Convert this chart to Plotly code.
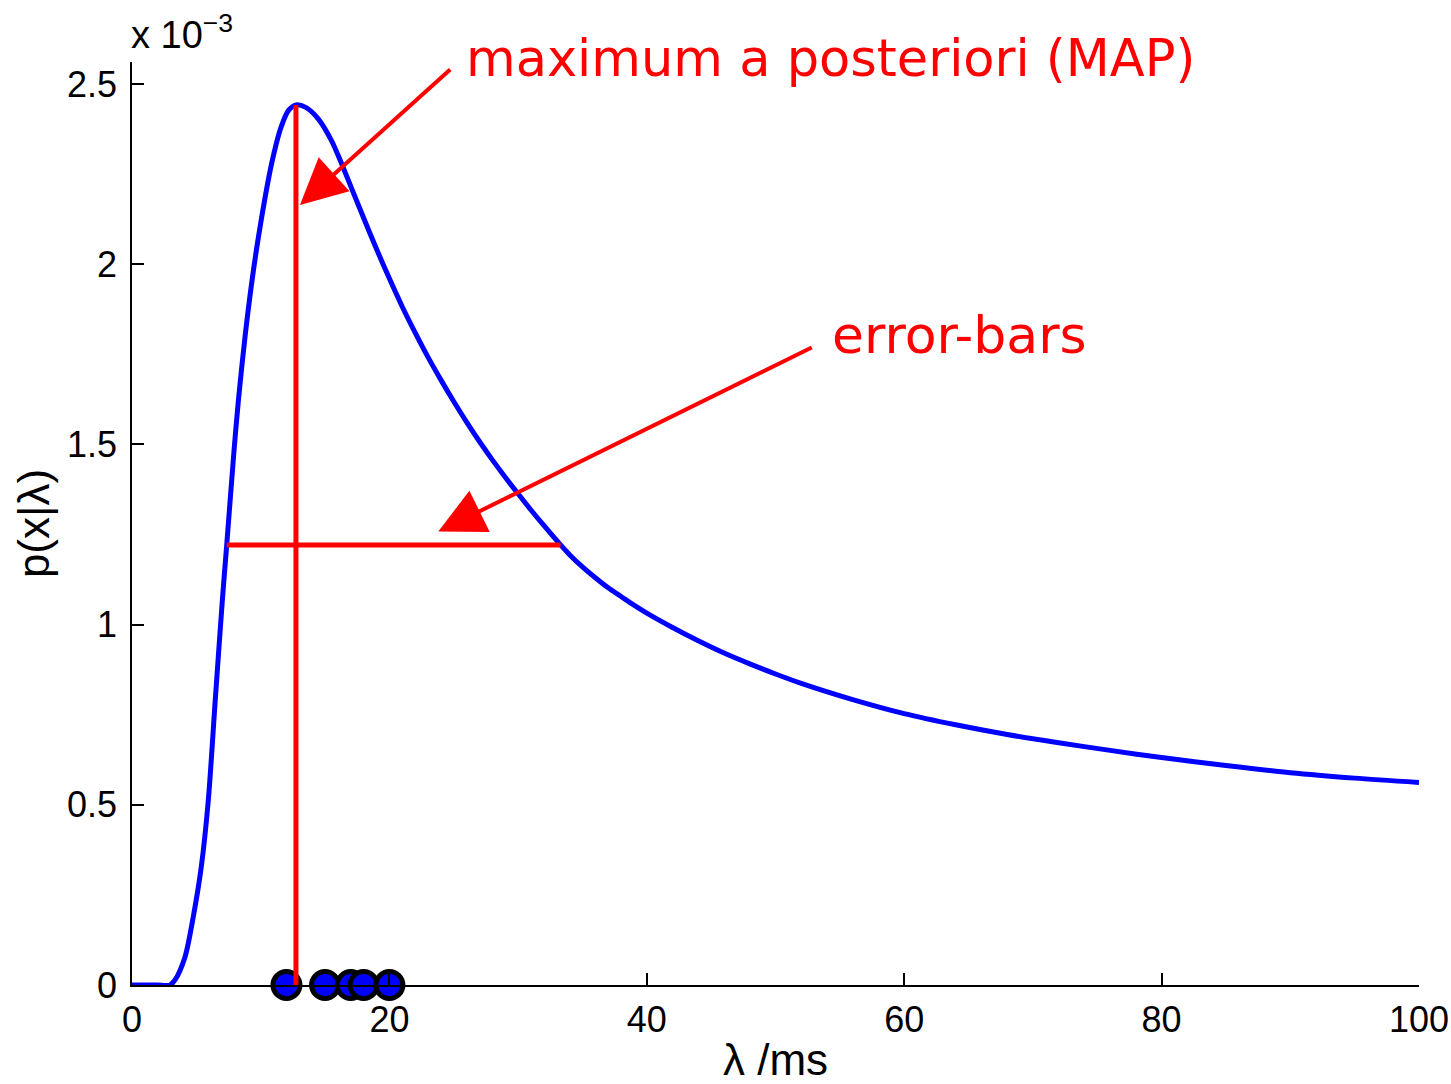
import plotly.graph_objects as go

# Likelihood curve p(x|lambda), values in units of 1e-3
lam = [0, 1, 2, 2.95, 3.34, 4.12, 4.76, 5.38, 5.93, 6.47, 7.02, 7.36, 7.93, 8.27,
       8.78, 9.33, 10.0, 10.86, 11.59, 12.19, 12.74, 13.5, 14.5, 15.5, 16.16,
       17.0, 18.0, 19.0, 20.0, 21.0, 22.0, 23.0, 24.0, 25.0, 26.0, 27.0, 28.0,
       29.0, 30.0, 31.0, 32.0, 33.3, 34.0, 35.0, 36.0, 37.0, 38.0, 39.0, 40.0,
       42.0, 44.0, 46.0, 48.0, 50.0, 52.0, 56.0, 60.0, 64.0, 68.0, 72.0, 76.0,
       80.0, 85.0, 90.0, 95.0, 100.0]
p_e3 = [0, 0, 0, 0, 0.014, 0.078, 0.189, 0.327, 0.513, 0.791, 1.068, 1.221, 1.484,
        1.623, 1.798, 1.956, 2.114, 2.281, 2.381, 2.428, 2.442, 2.435, 2.402,
        2.343, 2.290, 2.216, 2.128, 2.042, 1.960, 1.882, 1.810, 1.742, 1.679,
        1.619, 1.562, 1.508, 1.457, 1.409, 1.363, 1.318, 1.275, 1.221, 1.194,
        1.160, 1.130, 1.102, 1.078, 1.054, 1.032, 0.992, 0.955, 0.921, 0.891,
        0.863, 0.837, 0.792, 0.753, 0.722, 0.695, 0.672, 0.651, 0.631, 0.609,
        0.589, 0.574, 0.562]

# Observed samples (ms)
samples = [12, 15, 17, 18, 20]

# MAP estimate and half-height interval
map_lam = 12.74
map_p = 2.442
err_lo = 7.36
err_hi = 33.3
half_p = map_p / 2

x_ticks = [0, 20, 40, 60, 80, 100]
y_ticks = [0, 0.5, 1, 1.5, 2, 2.5]
y_tick_text = ["0", "0.5", "1", "1.5", "2", "2.5"]

BLUE = "#0000ff"
RED = "#ff0000"
SANS = "Liberation Sans, Arial, Helvetica, sans-serif"
NOTE = "DejaVu Sans, sans-serif"

fig = go.Figure()

fig.add_trace(go.Scatter(
    x=lam, y=p_e3, mode="lines",
    line=dict(color=BLUE, width=5, shape="spline", smoothing=0.8),
    hoverinfo="skip", showlegend=False))

fig.add_trace(go.Scatter(
    x=samples, y=[0] * len(samples), mode="markers", cliponaxis=False,
    marker=dict(size=27, color=BLUE, line=dict(color="black", width=5)),
    showlegend=False))

fig.add_trace(go.Scatter(
    x=[map_lam, map_lam], y=[0, map_p], mode="lines", cliponaxis=False,
    line=dict(color=RED, width=5), showlegend=False))

fig.add_trace(go.Scatter(
    x=[err_lo, err_hi], y=[half_p, half_p], mode="lines",
    line=dict(color=RED, width=5), showlegend=False))

axis_common = dict(
    showline=True, linecolor="black", linewidth=1.5,
    ticks="inside", ticklen=12, tickwidth=1.5, tickcolor="black",
    showgrid=False, zeroline=False, mirror=False, automargin=False,
    tickfont=dict(family=SANS, size=36, color="black"),
)

fig.update_layout(
    width=1451, height=1084,
    margin=dict(l=132, r=32, t=62, b=99),
    paper_bgcolor="white", plot_bgcolor="white",
    xaxis=dict(range=[0, 100], tickvals=x_ticks,
               ticklabelstandoff=2,
               title=dict(text="λ /ms", font=dict(family=SANS, size=44, color="black"),
                          standoff=6),
               **axis_common),
    yaxis=dict(range=[0, 2.561], tickvals=y_ticks, ticktext=y_tick_text,
               ticklabelstandoff=6,
               title=dict(text="p(x|λ)", font=dict(family=SANS, size=44, color="black"),
                          standoff=4),
               **axis_common),
)

# Exponent label for the y axis
fig.add_annotation(
    xref="paper", yref="paper", x=0, y=1, xanchor="left", yanchor="bottom",
    text="x 10<sup>−3</sup>", showarrow=False, yshift=4, xshift=-3,
    font=dict(family=SANS, size=38, color="black"))

# Callouts
fig.add_annotation(
    x=13.05, y=2.164, ax=24.84, ay=2.544, xref="x", yref="y", axref="x", ayref="y",
    showarrow=True, arrowhead=2, arrowsize=2.3, arrowwidth=4, arrowcolor=RED,
    standoff=0, text="")
fig.add_annotation(
    x=25.8, y=1.0033, xref="x", yref="paper", xanchor="left", yanchor="middle",
    text="maximum a posteriori (MAP)", showarrow=False,
    font=dict(family=NOTE, size=51, color=RED))

fig.add_annotation(
    x=23.80, y=1.258, ax=52.93, ay=1.771, xref="x", yref="y", axref="x", ayref="y",
    showarrow=True, arrowhead=2, arrowsize=2.3, arrowwidth=4, arrowcolor=RED,
    standoff=0, text="")
fig.add_annotation(
    x=54.2, y=1.804, xref="x", yref="y", xanchor="left", yanchor="middle",
    text="error-bars", showarrow=False,
    font=dict(family=NOTE, size=52, color=RED))

fig.write_html("out.html")
